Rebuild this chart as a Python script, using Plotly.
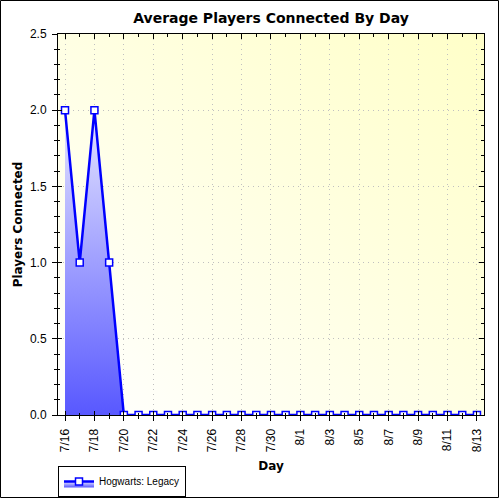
import base64
import plotly.graph_objects as go

# ---- data ----
days = [
    '2023-07-16', '2023-07-17', '2023-07-18', '2023-07-19', '2023-07-20',
    '2023-07-21', '2023-07-22', '2023-07-23', '2023-07-24', '2023-07-25',
    '2023-07-26', '2023-07-27', '2023-07-28', '2023-07-29', '2023-07-30',
    '2023-07-31', '2023-08-01', '2023-08-02', '2023-08-03', '2023-08-04',
    '2023-08-05', '2023-08-06', '2023-08-07', '2023-08-08', '2023-08-09',
    '2023-08-10', '2023-08-11', '2023-08-12', '2023-08-13',
]
players = [2, 1, 2, 1, 0, 0, 0, 0, 0, 0,
           0, 0, 0, 0, 0, 0, 0, 0, 0, 0,
           0, 0, 0, 0, 0, 0, 0, 0, 0]
series_name = 'Hogwarts: Legacy'

# ---- layout constants ----
W, H = 500, 500
L, R, T, B = 58, 16, 34, 85
pw, ph = W - L - R, H - T - B
DAY = 86400000
x_range = ['2023-07-15 12:34', '2023-08-13 11:30']
y_range = [0, 2.5]
FONT = 'Liberation Sans, Arial, sans-serif'
TFONT = 'DejaVu Sans, Verdana, sans-serif'
GRID_DASH = '1px,4px'

svg = ('<svg xmlns="http://www.w3.org/2000/svg" width="100" height="100" '
       'viewBox="0 0 100 100" preserveAspectRatio="none"><defs>'
       '<linearGradient id="g" x1="0" y1="1" x2="1" y2="0">'
       '<stop offset="0" stop-color="#ffffff"/>'
       '<stop offset="1" stop-color="#ffffc8"/></linearGradient></defs>'
       '<rect width="100" height="100" fill="url(#g)"/></svg>')
bg_src = 'data:image/svg+xml;base64,' + base64.b64encode(svg.encode()).decode()

fig = go.Figure()
fig.add_trace(go.Scatter(
    x=days, y=players, name=series_name, mode='lines+markers',
    line=dict(color='#0000ff', width=2.5),
    marker=dict(symbol='square', size=7, color='white',
                line=dict(color='#0000ff', width=1.5)),
    fill='tozeroy',
    fillgradient=dict(type='vertical',
                      colorscale=[[0, '#5858ff'], [1, '#e6e6ff']],
                      start=0, stop=2),
    cliponaxis=True,
))
fig.add_trace(go.Scatter(x=[], y=[], xaxis='x2', yaxis='y2',
                         showlegend=False, hoverinfo='skip'))
fig.add_trace(go.Scatter(x=[], y=[], xaxis='x3', yaxis='y3',
                         showlegend=False, hoverinfo='skip'))

common_x = dict(type='date', range=x_range, tick0='2023-07-16', dtick=2 * DAY)
common_y = dict(range=y_range, dtick=0.5, tick0=0)

fig.update_layout(
    width=W, height=H,
    margin=dict(l=L, r=R, t=T, b=B, autoexpand=False),
    paper_bgcolor='white',
    plot_bgcolor='rgba(0,0,0,0)',
    font=dict(family=FONT, size=12, color='black'),
    title=dict(text='<b>Average Players Connected By Day</b>',
               x=(L + pw / 2) / W, xanchor='center',
               y=1 - 18 / H, yanchor='middle',
               font=dict(size=14, family=TFONT, color='black')),
    showlegend=True,
    legend=dict(x=0, y=-(466 - (H - B)) / ph, xanchor='left', yanchor='top',
                orientation='h', bgcolor='white',
                bordercolor='black', borderwidth=1,
                font=dict(size=10, family=FONT),
                itemwidth=30, tracegroupgap=0),
    xaxis=dict(**common_x, tickformat='%-m/%-d', tickangle=-90,
               ticks='outside', ticklen=5, tickcolor='black',
               ticklabelstandoff=3,
               minor=dict(dtick=DAY, ticks='outside', ticklen=3,
                          tickcolor='black', showgrid=False),
               showgrid=True, gridcolor='#c0c0c0', griddash=GRID_DASH,
               gridwidth=1,
               showline=True, linecolor='black', linewidth=1,
               zeroline=False,
               title=dict(text='<b>Day</b>', standoff=10,
                          font=dict(size=12, family=TFONT))),
    xaxis2=dict(**common_x, overlaying='x', side='top', anchor='y2',
                ticks='inside', ticklen=5, tickcolor='black',
                minor=dict(dtick=DAY, ticks='inside', ticklen=3,
                           tickcolor='black', showgrid=False),
                showticklabels=False, showgrid=False,
                showline=True, linecolor='black', linewidth=1,
                zeroline=False),
    xaxis3=dict(**common_x, overlaying='x', side='bottom', anchor='y3',
                ticks='inside', ticklen=4, tickcolor='black',
                minor=dict(dtick=DAY, ticks='inside', ticklen=2,
                           tickcolor='black', showgrid=False),
                showticklabels=False, showgrid=False,
                showline=False, zeroline=False),
    yaxis=dict(**common_y, tickformat='.1f',
               ticks='outside', ticklen=5, tickcolor='black',
               ticklabelstandoff=3,
               minor=dict(dtick=0.1, ticks='outside', ticklen=3,
                          tickcolor='black', showgrid=False),
               showgrid=True, gridcolor='#c0c0c0', griddash=GRID_DASH,
               gridwidth=1,
               showline=True, linecolor='black', linewidth=1,
               zeroline=False,
               title=dict(text='<b>Players Connected</b>', standoff=4,
                          font=dict(size=12, family=TFONT))),
    yaxis2=dict(**common_y, overlaying='y', side='right', anchor='x2',
                ticks='inside', ticklen=5, tickcolor='black',
                minor=dict(dtick=0.1, ticks='inside', ticklen=3,
                           tickcolor='black', showgrid=False),
                showticklabels=False, showgrid=False,
                showline=True, linecolor='black', linewidth=1,
                zeroline=False),
    yaxis3=dict(**common_y, overlaying='y', side='left', anchor='x3',
                ticks='inside', ticklen=4, tickcolor='black',
                minor=dict(dtick=0.1, ticks='inside', ticklen=2,
                           tickcolor='black', showgrid=False),
                showticklabels=False, showgrid=False,
                showline=False, zeroline=False),
    images=[dict(source=bg_src, xref='paper', yref='paper',
                 x=0, y=1, sizex=1, sizey=1, sizing='stretch',
                 xanchor='left', yanchor='top', layer='below')],
    shapes=[dict(type='rect', xref='paper', yref='paper',
                 x0=(0.5 - L) / pw, x1=(W - 1.5 - L) / pw,
                 y0=(H - B - (H - 2.5)) / ph, y1=(H - B - 0.5) / ph,
                 line=dict(color='black', width=1), fillcolor='rgba(0,0,0,0)',
                 layer='above')],
)

fig.write_html('out.html',
               config={'displayModeBar': False},
               post_script="document.body.style.margin='0px';"
                           "document.body.style.overflow='hidden';")
